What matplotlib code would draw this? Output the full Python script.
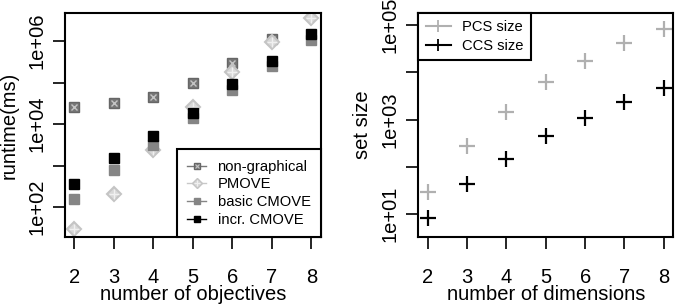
import numpy as np
import matplotlib
matplotlib.use('Agg')
import matplotlib.pyplot as plt
from matplotlib.lines import Line2D
from matplotlib.legend_handler import HandlerTuple

plt.rcParams['font.family'] = ['Liberation Sans', 'DejaVu Sans']

# left panel: runtime vs number of objectives (log10 of ms)
objectives = [2, 3, 4, 5, 6, 7, 8]
nongraphical = [4.42, 4.50, 4.645, 5.0, 5.47, 6.05, np.nan]
pmove = [1.47, 2.32, 3.37, 4.42, 5.25, 5.97, 6.56]
basic_cmove = [2.20, 2.90, 3.49, 4.14, 4.81, 5.40, 6.03]
incr_cmove = [2.56, 3.19, 3.71, 4.27, 4.97, 5.53, 6.17]

# right panel: set sizes vs number of dimensions (log10)
dimensions = [2, 3, 4, 5, 6, 7, 8]
pcs_size = [1.465, 2.45, 3.17, 3.79, 4.24, 4.61, 4.92]
ccs_size = [0.93, 1.63, 2.17, 2.65, 3.03, 3.37, 3.66]

FS = 14.5
LFS = 10.6


def style_axis(ax, xlabel, ylabel, exps, labelled):
    ax.set_yscale('log')
    ax.set_xticks(range(2, 9))
    ax.set_yticks([10.0 ** e for e in exps])
    ax.set_yticklabels(['1e+%02d' % e if e in labelled else '' for e in exps],
                       rotation=90, va='center')
    ax.minorticks_off()
    ax.tick_params(axis='both', length=8.6, width=1.2, labelsize=FS, direction='out')
    ax.tick_params(axis='x', pad=13.5)
    ax.tick_params(axis='y', pad=5)
    ax.set_xlabel(xlabel, fontsize=FS, labelpad=-1.5)
    ax.set_ylabel(ylabel, fontsize=FS, labelpad=6)
    for s in ax.spines.values():
        s.set_linewidth(1.5)


fig = plt.figure(figsize=(6.78, 3.08), dpi=100)
ax1 = fig.add_axes([0.0959, 0.2305, 0.3773, 0.7273])
ax2 = fig.add_axes([0.617, 0.2305, 0.376, 0.7273])

# --- left
x = np.array(objectives)
ax1.plot(x, 10 ** np.array(nongraphical), 's', ms=7, mfc='#777777', mec='#666666', mew=1)
ax1.plot(x, 10 ** np.array(nongraphical), 'x', ms=5, mec='#c4c4c4', mew=1)
ax1.plot(x, 10 ** np.array(pmove), 'D', ms=7, mfc='#d8d8d8', mec='#c4c4c4', mew=1.5)
ax1.plot(x, 10 ** np.array(pmove), '+', ms=7, mec='#f0f0f0', mew=1)
ax1.plot(x, 10 ** np.array(basic_cmove), 's', ms=7, color='#858585')
ax1.plot(x, 10 ** np.array(incr_cmove), 's', ms=7, color='black')
ax1.set_xlim(1.76, 8.24)
ax1.set_ylim(10 ** 1.275, 10 ** 6.68)
style_axis(ax1, 'number of objectives', 'runtime(ms)', [2, 3, 4, 5, 6], [2, 4, 6])

h_ng = (Line2D([], [], color='#777777', lw=1, marker='s', ms=5, mfc='#777777', mec='#666666'),
        Line2D([], [], ls='none', marker='x', ms=3.5, mec='#c4c4c4', mew=0.8))
h_pm = (Line2D([], [], color='#c8c8c8', lw=1, marker='D', ms=5, mfc='#d8d8d8', mec='#c4c4c4'),
        Line2D([], [], ls='none', marker='+', ms=5, mec='#f0f0f0', mew=0.8))
h_b = Line2D([], [], color='#858585', lw=1, marker='s', ms=5)
h_i = Line2D([], [], color='black', lw=1, marker='s', ms=5)
leg1 = ax1.legend([h_ng, h_pm, h_b, h_i],
                  ['non-graphical', 'PMOVE', 'basic CMOVE', 'incr. CMOVE'],
                  handler_map={tuple: HandlerTuple(ndivide=1)},
                  loc='lower right', bbox_to_anchor=(1.0, 0.0), fontsize=LFS,
                  fancybox=False, framealpha=1, edgecolor='black', borderpad=0.7,
                  handlelength=1.25, handletextpad=0.8, labelspacing=0.25,
                  borderaxespad=0)
leg1.get_frame().set_linewidth(1.5)

# --- right
x = np.array(dimensions)
ax2.plot(x, 10 ** np.array(pcs_size), '+', ms=11, mew=1.6, color='#b0b0b0')
ax2.plot(x, 10 ** np.array(ccs_size), '+', ms=11, mew=1.6, color='black')
ax2.set_xlim(1.76, 8.24)
ax2.set_ylim(10 ** 0.52, 10 ** 5.25)
style_axis(ax2, 'number of dimensions', 'set size', [1, 2, 3, 4, 5], [1, 3, 5])

h_p = Line2D([], [], color='#b0b0b0', lw=1.5, marker='+', ms=9, mew=1.3)
h_c = Line2D([], [], color='black', lw=1.5, marker='+', ms=9, mew=1.3)
leg2 = ax2.legend([h_p, h_c], ['PCS size', 'CCS size'], loc='upper left',
                  fontsize=LFS, fancybox=False, framealpha=1, edgecolor='black',
                  borderpad=0.5, handlelength=1.7, handletextpad=0.8,
                  labelspacing=0.3, borderaxespad=0)
leg2.get_frame().set_linewidth(1.5)

fig.savefig('out.png', dpi=100)
